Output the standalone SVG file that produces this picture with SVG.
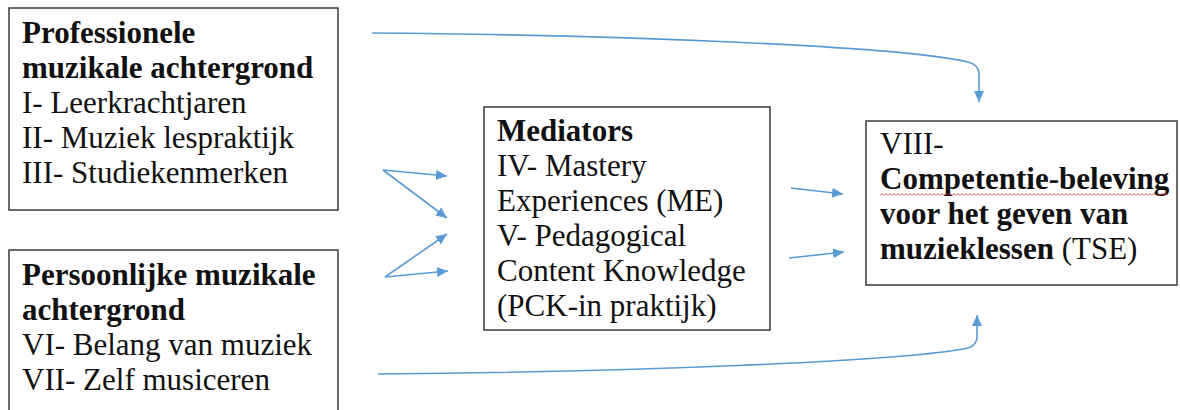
<svg xmlns="http://www.w3.org/2000/svg" width="1180" height="410" viewBox="0 0 1180 410">
  <style>
    .box { fill: #ffffff; stroke: #3a3a3a; stroke-width: 1.5; }
    .b { font-weight: bold; }
    .link { fill: none; stroke: #5b9bd5; stroke-width: 1.6; marker-end: url(#head); }
  </style>
  <defs>
    <marker id="head" markerUnits="userSpaceOnUse" markerWidth="12" markerHeight="11" refX="11" refY="5" orient="auto">
      <path d="M0,0 L11,5 L0,10 z" fill="#5b9bd5"/>
    </marker>
    <!-- wavy spell-check underline -->
    <pattern id="squiggle" patternUnits="userSpaceOnUse" x="880" y="193" width="4" height="3">
      <path d="M0,2.5 L2,0.5 L4,2.5" fill="none" stroke="#e02020" stroke-width="0.8"/>
    </pattern>
  </defs>

  <rect width="1180" height="410" fill="#ffffff"/>

  <g font-family="Liberation Serif" font-size="31" fill="#111111">
    <!-- Professionele muzikale achtergrond -->
    <g id="node-professioneel">
      <rect class="box" x="9" y="8" width="329" height="202"/>
      <text class="b" x="22" y="43">Professionele</text>
      <text class="b" x="22" y="78">muzikale achtergrond</text>
      <text x="22" y="113">I- Leerkrachtjaren</text>
      <text x="22" y="148">II- Muziek lespraktijk</text>
      <text x="22" y="183">III- Studiekenmerken</text>
    </g>

    <!-- Persoonlijke muzikale achtergrond -->
    <g id="node-persoonlijk">
      <rect class="box" x="9" y="250" width="329" height="170"/>
      <text class="b" x="22" y="285">Persoonlijke muzikale</text>
      <text class="b" x="22" y="320">achtergrond</text>
      <text x="22" y="355">VI- Belang van muziek</text>
      <text x="22" y="390">VII- Zelf musiceren</text>
    </g>

    <!-- Mediators -->
    <g id="node-mediators">
      <rect class="box" x="484" y="107" width="286" height="223"/>
      <text class="b" x="497" y="141">Mediators</text>
      <text x="497" y="176">IV- Mastery</text>
      <text x="497" y="211">Experiences (ME)</text>
      <text x="497" y="246">V- Pedagogical</text>
      <text x="497" y="281">Content Knowledge</text>
      <text x="497" y="316">(PCK-in praktijk)</text>
    </g>

    <!-- Outcome -->
    <g id="node-tse">
      <rect class="box" x="866" y="121" width="311" height="164"/>
      <text x="880" y="154">VIII-</text>
      <text class="b" x="880" y="189">Competentie-beleving</text>
      <rect x="880" y="193" width="288" height="3" fill="url(#squiggle)"/>
      <text class="b" x="880" y="224">voor het geven van</text>
      <text x="880" y="259"><tspan class="b">muzieklessen</tspan> (TSE)</text>
    </g>
  </g>

  <!-- Connectors -->
  <g id="connectors">
    <path class="link" d="M372,33 C620,35 900,46 968,62 Q979,65 979,74 L979,102"/>
    <path class="link" d="M378,374 C620,372 900,362 968,348 Q977,345 977,337 L977,315"/>
    <path class="link" d="M383,170 L447,176"/>
    <path class="link" d="M383,170 L447,218"/>
    <path class="link" d="M385,277 L447,234"/>
    <path class="link" d="M385,277 L448,271"/>
    <path class="link" d="M791,188 L843,194"/>
    <path class="link" d="M789,258 L844,252"/>
  </g>
</svg>
